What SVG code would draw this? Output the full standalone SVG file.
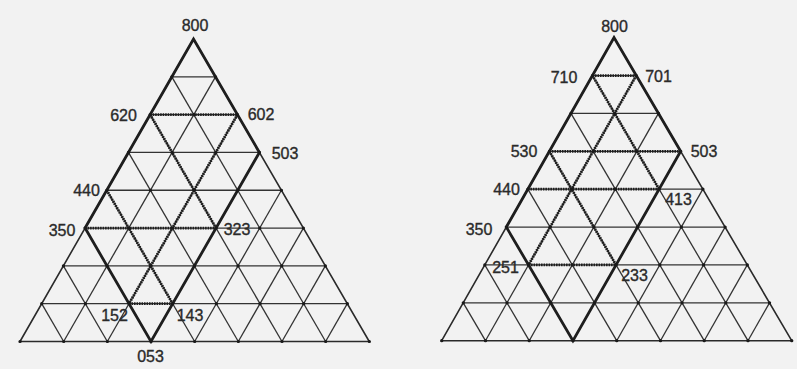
<svg xmlns="http://www.w3.org/2000/svg" width="797" height="369" viewBox="0 0 797 369">
<style>
.g{stroke:#333;stroke-width:1.3;fill:none}
.e{stroke:#2a2a2a;stroke-width:1.6;fill:none}
.t{stroke:#1e1e1e;stroke-width:2.8;fill:none;stroke-linejoin:miter}
.d{stroke:#1e1e1e;stroke-width:2.8;fill:none;stroke-dasharray:1.6 0.9}
.vl{stroke:#1a1a1a;stroke-width:3.2;stroke-linecap:round;stroke-dasharray:0.1 43.56;fill:none}
.vr{stroke:#1a1a1a;stroke-width:3.2;stroke-linecap:round;stroke-dasharray:0.1 43.65;fill:none}
text{font-family:"Liberation Sans",Arial,sans-serif;font-size:16px;fill:#2a2a2a;stroke:#2a2a2a;stroke-width:0.35;text-anchor:middle}
</style>
<rect width="797" height="369" fill="#f2f2f2"/>

<g id="connectors">
<g id="left-grid">
<line class="g" x1="41.69" y1="303.69" x2="347.31" y2="303.69"/>
<line class="g" x1="63.38" y1="265.88" x2="325.34" y2="265.88"/>
<line class="g" x1="85.07" y1="228.07" x2="303.37" y2="228.07"/>
<line class="g" x1="106.76" y1="190.26" x2="281.4" y2="190.26"/>
<line class="g" x1="128.45" y1="152.45" x2="259.43" y2="152.45"/>
<line class="g" x1="150.14" y1="114.64" x2="237.46" y2="114.64"/>
<line class="g" x1="171.83" y1="76.83" x2="215.49" y2="76.83"/>
<line class="g" x1="63.66" y1="341.5" x2="215.49" y2="76.83"/>
<line class="g" x1="107.32" y1="341.5" x2="237.46" y2="114.64"/>
<line class="g" x1="150.98" y1="341.5" x2="259.43" y2="152.45"/>
<line class="g" x1="194.64" y1="341.5" x2="281.4" y2="190.26"/>
<line class="g" x1="238.3" y1="341.5" x2="303.37" y2="228.07"/>
<line class="g" x1="281.96" y1="341.5" x2="325.34" y2="265.88"/>
<line class="g" x1="325.62" y1="341.5" x2="347.31" y2="303.69"/>
<line class="g" x1="325.62" y1="341.5" x2="171.83" y2="76.83"/>
<line class="g" x1="281.96" y1="341.5" x2="150.14" y2="114.64"/>
<line class="g" x1="238.3" y1="341.5" x2="128.45" y2="152.45"/>
<line class="g" x1="194.64" y1="341.5" x2="106.76" y2="190.26"/>
<line class="g" x1="150.98" y1="341.5" x2="85.07" y2="228.07"/>
<line class="g" x1="107.32" y1="341.5" x2="63.38" y2="265.88"/>
<line class="g" x1="63.66" y1="341.5" x2="41.69" y2="303.69"/>
<polygon class="e" points="20,341.5 193.52,39.02 369.28,341.5"/>
<polygon class="t" points="85.07,228.07 193.52,39.02 259.43,152.45 150.98,341.5"/>
<line class="d" x1="150.14" y1="114.64" x2="237.46" y2="114.64"/>
<line class="d" x1="150.14" y1="114.64" x2="216.05" y2="228.07"/>
<line class="d" x1="237.46" y1="114.64" x2="129.01" y2="303.69"/>
<line class="d" x1="85.07" y1="228.07" x2="216.05" y2="228.07"/>
<line class="d" x1="106.76" y1="190.26" x2="172.67" y2="303.69"/>
<line class="d" x1="129.01" y1="303.69" x2="172.67" y2="303.69"/>
<line class="vl" x1="20" y1="341.5" x2="369.4" y2="341.5"/>
<line class="vl" x1="41.69" y1="303.69" x2="347.4" y2="303.69"/>
<line class="vl" x1="63.38" y1="265.88" x2="325.4" y2="265.88"/>
<line class="vl" x1="85.07" y1="228.07" x2="303.4" y2="228.07"/>
<line class="vl" x1="106.76" y1="190.26" x2="281.5" y2="190.26"/>
<line class="vl" x1="128.45" y1="152.45" x2="259.5" y2="152.45"/>
<line class="vl" x1="150.14" y1="114.64" x2="237.5" y2="114.64"/>
<line class="vl" x1="171.83" y1="76.83" x2="215.6" y2="76.83"/>
</g>
<g id="right-grid">
<line class="g" x1="463.24" y1="302.82" x2="769.49" y2="302.82"/>
<line class="g" x1="484.78" y1="264.94" x2="747.28" y2="264.94"/>
<line class="g" x1="506.32" y1="227.06" x2="725.07" y2="227.06"/>
<line class="g" x1="527.86" y1="189.18" x2="702.86" y2="189.18"/>
<line class="g" x1="549.4" y1="151.3" x2="680.65" y2="151.3"/>
<line class="g" x1="570.94" y1="113.42" x2="658.44" y2="113.42"/>
<line class="g" x1="592.48" y1="75.54" x2="636.23" y2="75.54"/>
<line class="g" x1="485.45" y1="340.7" x2="636.23" y2="75.54"/>
<line class="g" x1="529.2" y1="340.7" x2="658.44" y2="113.42"/>
<line class="g" x1="572.95" y1="340.7" x2="680.65" y2="151.3"/>
<line class="g" x1="616.7" y1="340.7" x2="702.86" y2="189.18"/>
<line class="g" x1="660.45" y1="340.7" x2="725.07" y2="227.06"/>
<line class="g" x1="704.2" y1="340.7" x2="747.28" y2="264.94"/>
<line class="g" x1="747.95" y1="340.7" x2="769.49" y2="302.82"/>
<line class="g" x1="747.95" y1="340.7" x2="592.48" y2="75.54"/>
<line class="g" x1="704.2" y1="340.7" x2="570.94" y2="113.42"/>
<line class="g" x1="660.45" y1="340.7" x2="549.4" y2="151.3"/>
<line class="g" x1="616.7" y1="340.7" x2="527.86" y2="189.18"/>
<line class="g" x1="572.95" y1="340.7" x2="506.32" y2="227.06"/>
<line class="g" x1="529.2" y1="340.7" x2="484.78" y2="264.94"/>
<line class="g" x1="485.45" y1="340.7" x2="463.24" y2="302.82"/>
<polygon class="e" points="441.7,340.7 614.02,37.66 791.7,340.7"/>
<polygon class="t" points="506.32,227.06 614.02,37.66 680.65,151.3 572.95,340.7"/>
<line class="d" x1="592.48" y1="75.54" x2="636.23" y2="75.54"/>
<line class="d" x1="636.23" y1="75.54" x2="528.53" y2="264.94"/>
<line class="d" x1="592.48" y1="75.54" x2="659.11" y2="189.18"/>
<line class="d" x1="549.4" y1="151.3" x2="680.65" y2="151.3"/>
<line class="d" x1="527.86" y1="189.18" x2="659.11" y2="189.18"/>
<line class="d" x1="549.4" y1="151.3" x2="616.03" y2="264.94"/>
<line class="d" x1="528.53" y1="264.94" x2="616.03" y2="264.94"/>
<line class="vr" x1="441.7" y1="340.7" x2="791.8" y2="340.7"/>
<line class="vr" x1="463.24" y1="302.82" x2="769.6" y2="302.82"/>
<line class="vr" x1="484.78" y1="264.94" x2="747.4" y2="264.94"/>
<line class="vr" x1="506.32" y1="227.06" x2="725.2" y2="227.06"/>
<line class="vr" x1="527.86" y1="189.18" x2="703" y2="189.18"/>
<line class="vr" x1="549.4" y1="151.3" x2="680.8" y2="151.3"/>
<line class="vr" x1="570.94" y1="113.42" x2="658.6" y2="113.42"/>
<line class="vr" x1="592.48" y1="75.54" x2="636.4" y2="75.54"/>
</g>
</g>

<g id="left-labels">
<g id="L800"><text x="195" y="31">800</text></g>
<g id="L620"><text x="123.5" y="121">620</text></g>
<g id="L602"><text x="261" y="120">602</text></g>
<g id="L503"><text x="285" y="159">503</text></g>
<g id="L440"><text x="86.5" y="196">440</text></g>
<g id="L350"><text x="62" y="236">350</text></g>
<g id="L323"><text x="237" y="235">323</text></g>
<g id="L152"><text x="114.5" y="321">152</text></g>
<g id="L143"><text x="190" y="321">143</text></g>
<g id="L053"><text x="150.5" y="362">053</text></g>
</g>
<g id="right-labels">
<g id="R800"><text x="614.5" y="32">800</text></g>
<g id="R710"><text x="564" y="83">710</text></g>
<g id="R701"><text x="658.5" y="82">701</text></g>
<g id="R530"><text x="524" y="157">530</text></g>
<g id="R503"><text x="704" y="157">503</text></g>
<g id="R440"><text x="506.5" y="195">440</text></g>
<g id="R413"><text x="678.5" y="205">413</text></g>
<g id="R350"><text x="479" y="235">350</text></g>
<g id="R251"><text x="505.5" y="273">251</text></g>
<g id="R233"><text x="634.5" y="281">233</text></g>
</g>
</svg>
